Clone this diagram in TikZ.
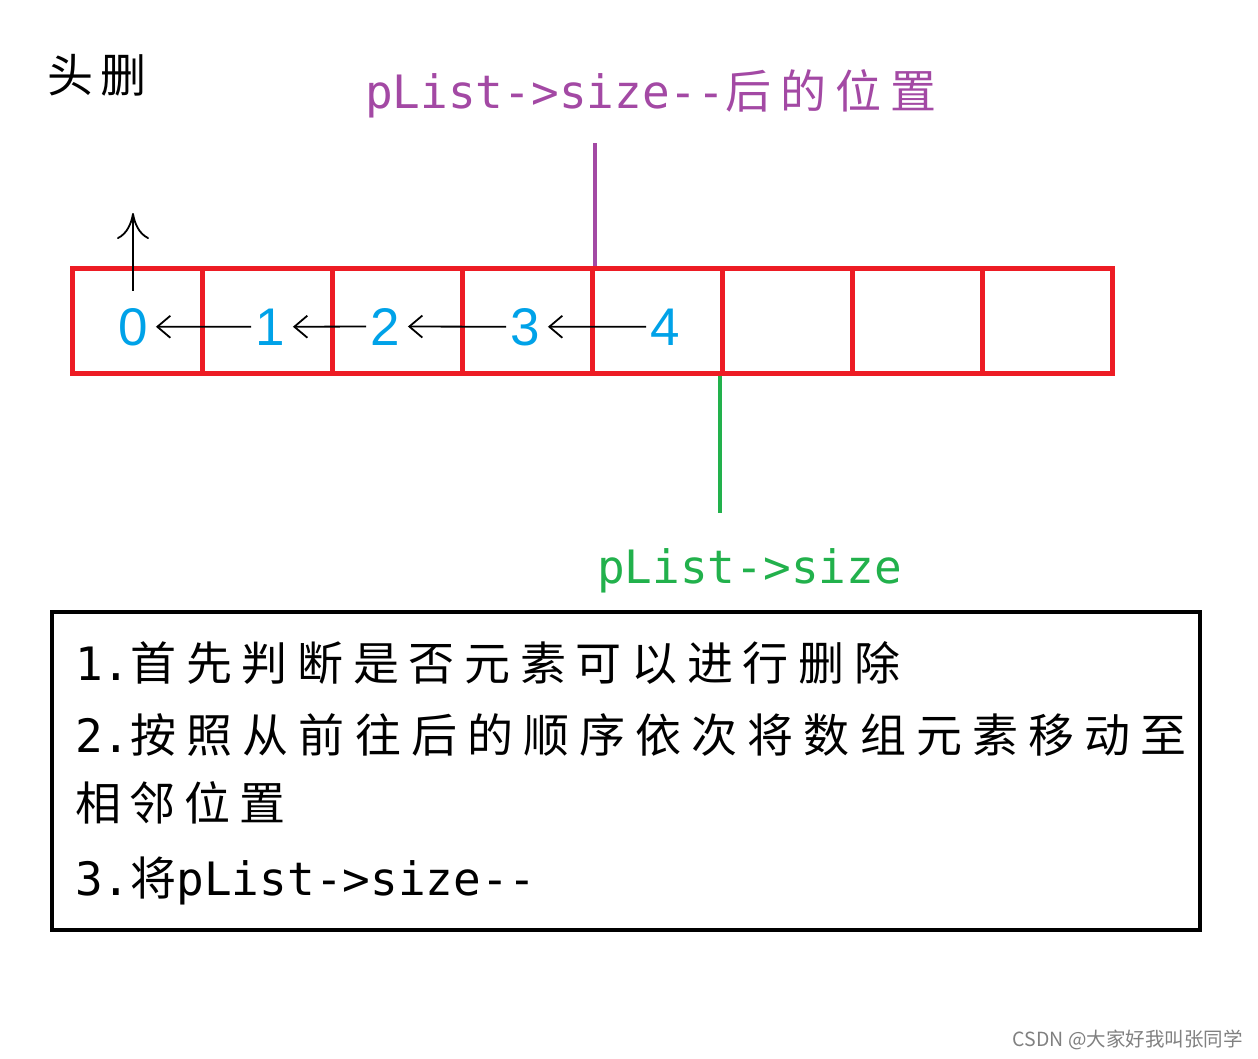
\documentclass[tikz,border=0pt]{standalone}
\usepackage{fontspec}
\setmonofont{DejaVu Sans Mono}
\setsansfont{Liberation Sans}
\newfontfamily\cjk{Noto Sans CJK SC}
\usetikzlibrary{arrows.meta}
\definecolor{pred}{RGB}{237,28,36}
\definecolor{pblue}{RGB}{0,162,232}
\definecolor{ppurple}{RGB}{163,73,164}
\definecolor{pgreen}{RGB}{34,177,76}
\newcommand{\zh}[2]{{\cjk\addfontfeature{LetterSpace=#1}#2}}
\begin{document}
\begin{tikzpicture}[x=1pt,y=-1pt,
    cell/.style={draw=pred,line width=5pt,minimum width=130.1pt,minimum height=105pt,inner sep=0pt},
    digit/.style={text=pblue,font=\sffamily\fontsize{53}{60}\selectfont,inner sep=0pt,anchor=base},
    txt/.style={inner sep=0pt,anchor=base west,font=\fontsize{46}{55}\selectfont},
    arr/.style={line width=1.8pt,-{Straight Barb[length=13pt,width=22pt]},shorten <=4pt,shorten >=8pt}]
      \useasboundingbox (0,0) rectangle (1258,1058);
      \node[txt] (title) at (47,92) {\zh{15}{头删}};
      \node[txt,text=ppurple] (plab) at (365,108) {\ttfamily pList->size-{}-\zh{20}{后的位置}};
      \foreach \i in {0,...,7} \node[cell] (c\i) at ({137.05+130.1*\i},320.5) {};
      \foreach \i/\x in {0/133,1/270,2/385,3/525,4/665} \node[digit] (d\i) at (\x,345) {\i};
      \foreach \i/\j in {0/1,1/2,2/3,3/4} \draw[arr] (d\j.west) -- (d\i.east);
      \coordinate (up) at (133,213);
      \draw[line width=1.8pt,-{To[length=26pt,width=32pt]},shorten <=17pt] (d0.north) -- (up);
      \coordinate (ptop) at (595,143);
      \draw[ppurple,line width=4pt] (ptop) -- (ptop |- c4.north);
      \coordinate (gbot) at (722,513);
      \draw[pgreen,line width=4pt] (c5.south west) -- (c5.south west |- gbot);
      \node[txt,text=pgreen] (glab) at (597,583) {\ttfamily pList->size};
      \node[draw,line width=4pt,minimum width=1148pt,minimum height=318pt,inner sep=0pt] (box) at (626,771) {};
      \node[txt] (l1) at (75,680) {{\ttfamily 1.}\zh{21}{首先判断是否元素可以进行删除}};
      \node[txt] (l2) at (75,752) {{\ttfamily 2.}\zh{22}{按照从前往后的顺序依次将数组元素移动至}};
      \node[txt] (l3) at (75,820) {\zh{19}{相邻位置}};
      \node[txt] (l4) at (75,895) {{\ttfamily 3.}\zh{13}{将}{\ttfamily pList->size-{}-}};
      \node[anchor=base east,inner sep=0pt,text=black!50,font=\cjk\fontsize{19.5}{22}\selectfont] (mark) at (1243,1046) {CSDN @大家好我叫张同学};
    \end{tikzpicture}
\end{document}
